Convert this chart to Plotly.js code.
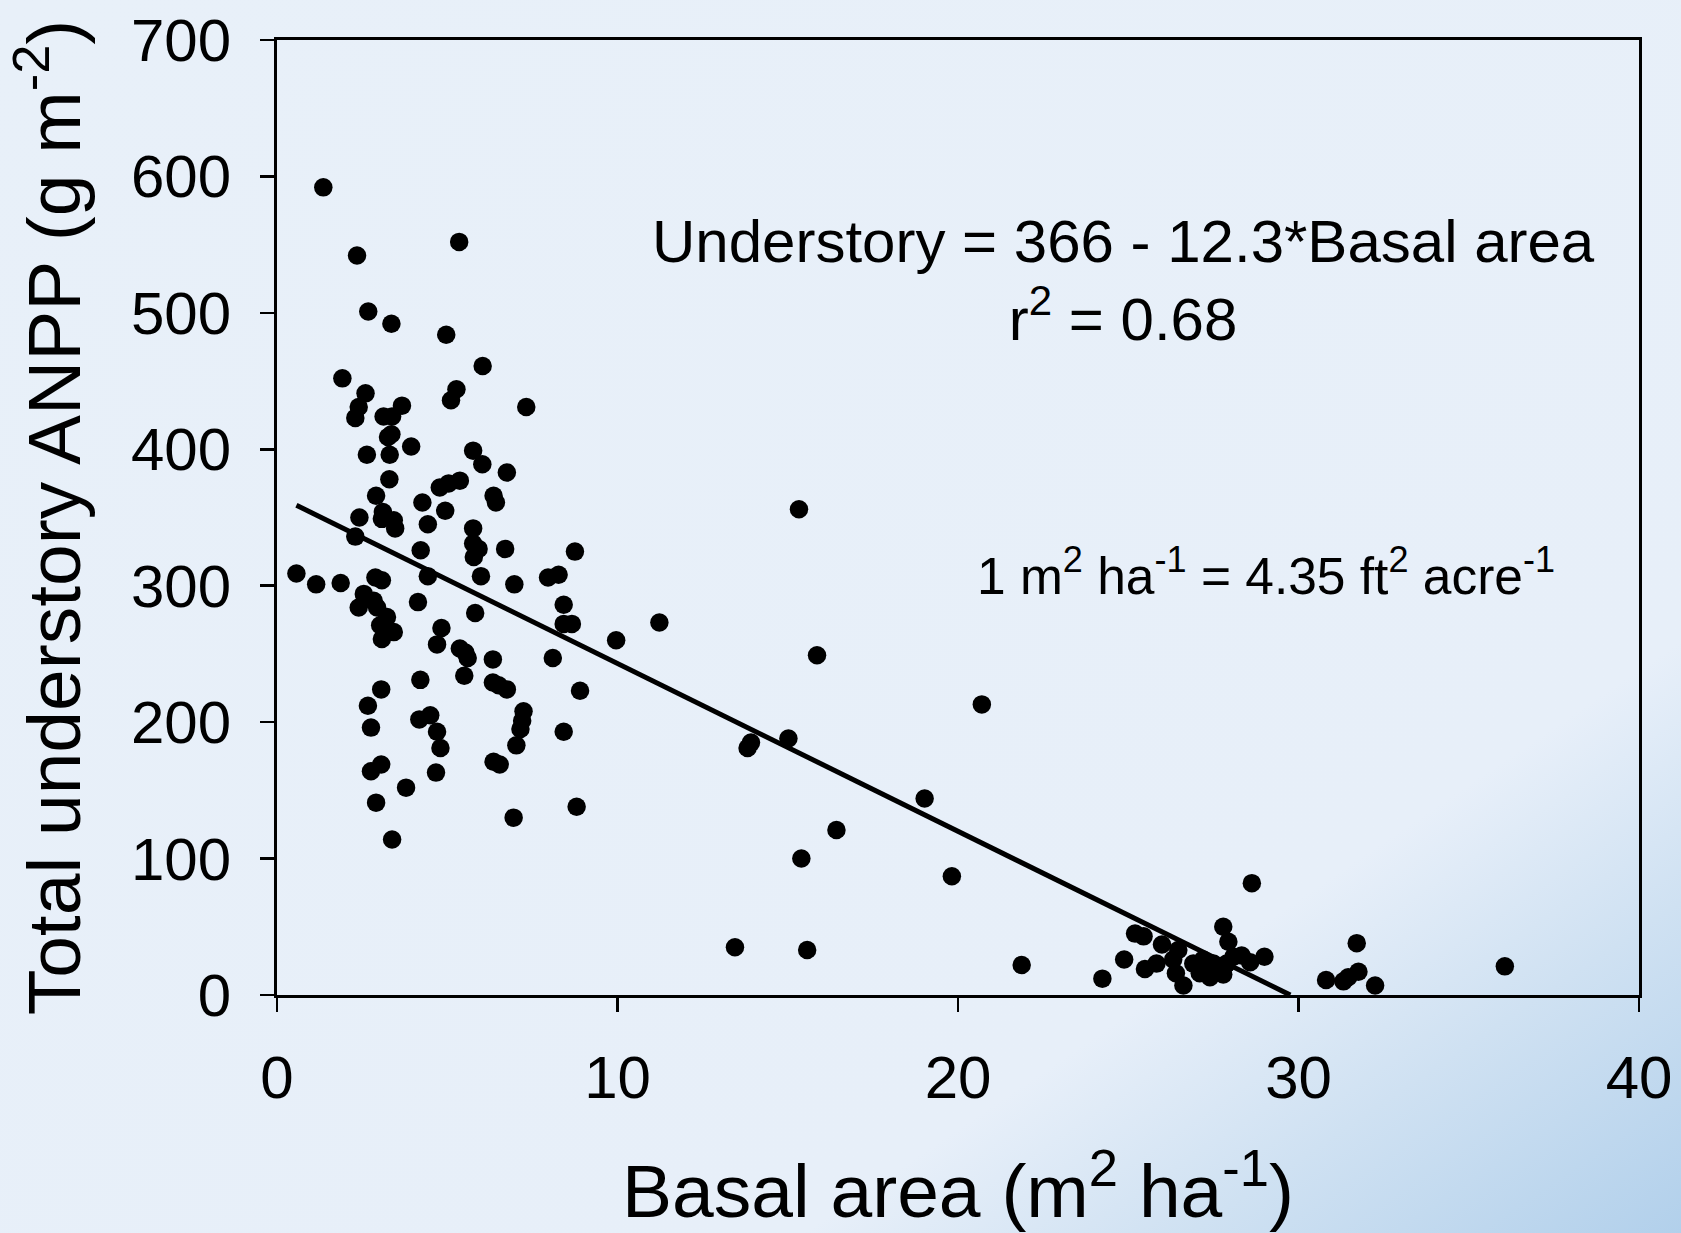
<!DOCTYPE html>
<html>
<head>
<meta charset="utf-8">
<script src="https://cdn.plot.ly/plotly-3.0.1.min.js"></script>
<style>
  html, body { margin: 0; padding: 0; }
  body {
    width: 1681px; height: 1233px; overflow: hidden;
    background: linear-gradient(146deg, #E8F0F9 0%, #E7EFF9 75%, #CFE1F2 86%, #B2D0EB 100%);
  }
  #chart { width: 1681px; height: 1233px; }
</style>
</head>
<body>
<div id="chart"></div>
<script>
// Basal area (m2 ha-1) of each plot
const basalArea = [
  1.36, 2.35, 5.35, 2.68, 3.36, 4.97, 6.04, 1.92, 2.60, 2.40,
  2.30, 5.27, 5.11, 3.67, 7.32, 3.13, 3.38, 3.36, 3.26, 3.94,
  5.76, 2.64, 3.31, 6.03, 6.75, 3.30, 2.91, 4.27, 4.78, 5.04,
  5.37, 4.94, 6.36, 6.43, 2.42, 3.11, 3.08, 3.43, 3.47, 2.30,
  4.43, 5.76, 5.76, 5.92, 5.78, 6.70, 4.22, 8.75, 0.57, 1.15,
  1.87, 4.43, 5.99, 6.97, 7.96, 8.27, 2.89, 3.08, 2.55, 2.40,
  2.84, 2.94, 3.23, 3.03, 3.43, 3.08, 4.14, 5.82, 8.42, 8.42,
  8.66, 4.83, 4.70, 5.37, 5.53, 5.60, 6.34, 8.10, 5.50, 4.21,
  3.06, 6.34, 6.51, 6.75, 2.67, 8.90, 7.24, 4.18, 4.50, 2.76,
  4.70, 4.80, 7.20, 7.15, 7.03, 8.42, 3.06, 2.76, 3.79, 4.67,
  6.36, 6.54, 2.91, 3.38, 6.95, 8.80, 9.96, 11.23,
  15.33, 15.86, 20.70, 13.92, 13.82, 15.02, 19.02, 16.43, 15.40, 19.82,
  13.45, 15.57, 21.87, 28.63, 25.20, 25.45, 24.24, 24.88, 25.99, 25.49,
  25.83, 26.47, 26.32, 26.40, 26.62, 26.91, 27.20, 27.50, 27.10, 27.40,
  27.79, 27.89, 27.79, 27.94, 28.33, 28.58, 29.00, 28.09, 30.81, 31.71,
  31.46, 31.76, 31.32, 32.25, 36.06
];
// Total understory ANPP (g m-2) of each plot
const understoryANPP = [
  592, 542, 552, 501, 492, 484, 461, 452, 441, 431,
  423, 444, 436, 432, 431, 424, 424, 411, 409, 402,
  399, 396, 396, 389, 383, 378, 366, 361, 372, 375,
  377, 355, 366, 361, 350, 354, 349, 348, 342, 336,
  345, 342, 331, 327, 321, 327, 326, 325, 309, 301,
  302, 307, 307, 301, 306, 308, 306, 304, 294, 284,
  289, 284, 277, 271, 266, 261, 288, 280, 286, 272,
  272, 269, 257, 254, 251, 247, 246, 247, 234, 231,
  224, 229, 227, 224, 212, 223, 208, 202, 205, 196,
  193, 181, 201, 195, 183, 193, 169, 164, 152, 163,
  171, 169, 141, 114, 130, 138, 260, 273,
  356, 249, 213, 185, 181, 188, 144, 121, 100, 87,
  35, 33, 22, 82, 45, 43, 12, 26, 37, 19,
  23, 33, 26, 16, 7, 23, 26, 23, 16, 13,
  15, 23, 50, 39, 29, 24, 28, 28, 11, 38,
  13, 17, 10, 7, 21
];

// Fitted regression: Understory = 366 - 12.3 * Basal area
const fitIntercept = 366;
const fitSlope = -12.3;
const fitXRange = [0.57, 29.76];
const fitY = fitXRange.map(x => fitIntercept + fitSlope * x);

const xTicks = [0, 10, 20, 30, 40];
const yTicks = [0, 100, 200, 300, 400, 500, 600, 700];

const font = 'Liberation Sans, Arial, sans-serif';

const traces = [
  {
    type: 'scatter', mode: 'markers',
    x: basalArea, y: understoryANPP,
    marker: { color: '#000000', size: 18.5, line: { width: 0 } },
    showlegend: false, hoverinfo: 'x+y'
  },
  {
    type: 'scatter', mode: 'lines',
    x: fitXRange, y: fitY,
    line: { color: '#000000', width: 5 },
    showlegend: false, hoverinfo: 'skip'
  }
];

const layout = {
  width: 1681, height: 1233,
  paper_bgcolor: 'rgba(0,0,0,0)',
  plot_bgcolor: 'rgba(0,0,0,0)',
  margin: { l: 277, r: 42, t: 40, b: 238 },
  font: { family: font, color: '#000000' },
  showlegend: false,
  xaxis: {
    range: [0, 40],
    tickmode: 'array', tickvals: xTicks, ticktext: xTicks.map(String),
    ticks: 'outside', ticklen: 14, tickwidth: 2.5, tickcolor: '#000',
    showline: true, linewidth: 3, linecolor: '#000', mirror: true,
    showgrid: false, zeroline: false,
    tickfont: { family: font, size: 60, color: '#000' },
    ticklabelstandoff: 14,
    title: { text: 'Basal area (m<sup>2</sup> ha<sup>-1</sup>)', font: { family: font, size: 75, color: '#000' }, standoff: 62 }
  },
  yaxis: {
    range: [0, 700],
    tickmode: 'array', tickvals: yTicks, ticktext: yTicks.map(String),
    ticks: 'outside', ticklen: 14, tickwidth: 2.5, tickcolor: '#000',
    showline: true, linewidth: 3, linecolor: '#000', mirror: true,
    showgrid: false, zeroline: false,
    tickfont: { family: font, size: 60, color: '#000' },
    ticklabelstandoff: 17,
    title: { text: 'Total understory ANPP (g m<sup>-2</sup>)', font: { family: font, size: 75, color: '#000' }, standoff: 26 }
  },
  annotations: [
    {
      xref: 'x', yref: 'y', x: 24.86, y: 524,
      xanchor: 'center', yanchor: 'middle', showarrow: false, align: 'center',
      text: 'Understory = 366 - 12.3*Basal area<br>r<sup>2</sup> = 0.68',
      font: { family: font, size: 60, color: '#000' }
    },
    {
      xref: 'x', yref: 'y', x: 29.05, y: 310,
      xanchor: 'center', yanchor: 'middle', showarrow: false,
      text: '1 m<sup>2</sup> ha<sup>-1</sup> = 4.35 ft<sup>2</sup> acre<sup>-1</sup>',
      font: { family: font, size: 51.5, color: '#000' }
    }
  ]
};

Plotly.newPlot('chart', traces, layout, { displayModeBar: false, staticPlot: true });
</script>
</body>
</html>
